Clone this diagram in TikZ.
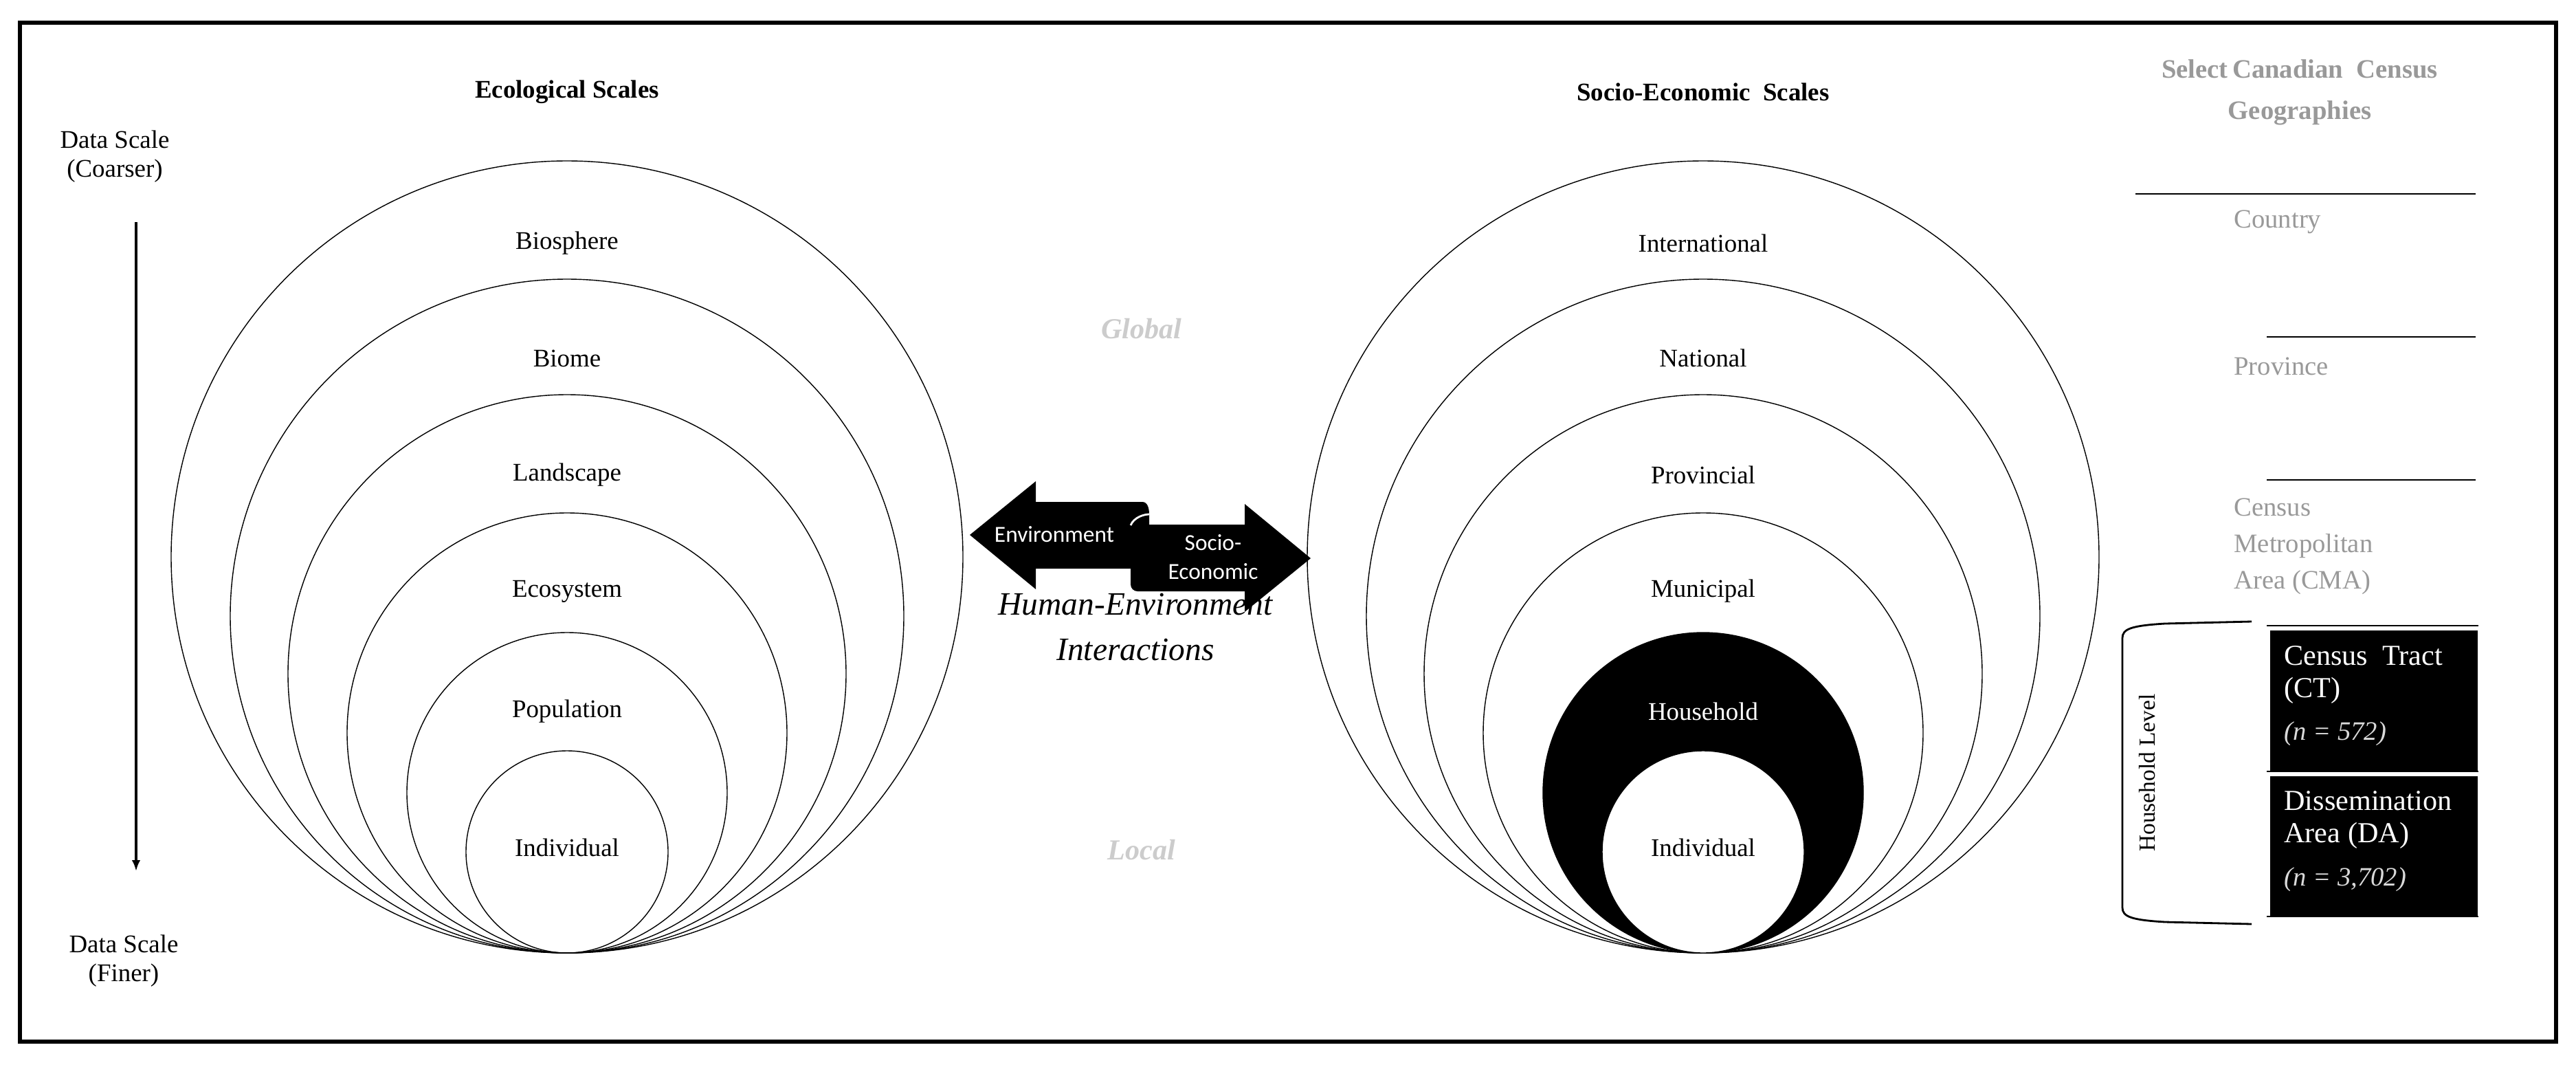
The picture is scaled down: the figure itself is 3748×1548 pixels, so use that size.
\documentclass[tikz,border=0pt]{standalone}
\usepackage{fontspec}
\usetikzlibrary{arrows.meta}
\setmainfont{Liberation Serif}
\newfontfamily\carl{Carlito}
\begin{document}
\begin{tikzpicture}[x=0.01cm,y=-0.01cm,
  circ/.style={draw,line width=0.4pt},
  lab/.style={font=\fontsize{10.5}{12}\selectfont},
  ttl/.style={font=\fontsize{10.5}{12}\selectfont\bfseries},
  gr/.style={text=gray!80},
  geo/.style={font=\fontsize{11}{15}\selectfont,text=gray!80,anchor=west,align=left},
  wt/.style={font=\fontsize{12}{15}\selectfont,text=white,anchor=west}]
\path[use as bounding box] (0,0) rectangle (3748,1548);
\draw[line width=1.5pt] (29,33) rectangle (3719,1515);
% left circles
\foreach \r in {576,490,406,320,233,147} \draw[circ] (825,1386-\r) circle (\r);
\node[lab] (bs) at (825,354) {Biosphere};
\node[lab] (bm) at (825,521) {Biome};
\node[lab] (ls) at (825,691) {Landscape};
\node[lab] (es) at (825,860) {Ecosystem};
\node[lab] (po) at (825,1035) {Population};
\node[lab] (in) at (825,1233) {Individual};
\node[ttl] (et) at (825,134) {Ecological Scales};
% right circles
\foreach \r in {576,490,406,320} \draw[circ] (2478,1386-\r) circle (\r);
\draw[circ,fill=black] (2478,1153) circle (233);
\draw[circ,fill=white] (2478,1239) circle (147);
\node[lab] at (2478,354) {International};
\node[lab] at (2478,521) {National};
\node[lab] at (2478,691) {Provincial};
\node[lab] at (2478,860) {Municipal};
\node[lab,text=white] at (2478,1035) {Household};
\node[lab] at (2478,1233) {Individual};
\node[ttl] (st) at (2478,134) {Socio-Economic\ \ Scales};
% data scale
\node[lab,align=center] (dc) at (167,228) {Data Scale\\(Coarser)};
\node[lab,align=center] (df) at (180,1398) {Data Scale\\(Finer)};
\coordinate (a1) at (198,323); \coordinate (a2) at (198,1267);
\draw[-{Latex[length=4.5pt,width=3.5pt]},line width=1.2pt] (a1) -- (a2);
% global/local
\node[font=\fontsize{12}{14}\selectfont\bfseries\itshape,text=gray!40] (gl) at (1661,478) {Global};
\node[font=\fontsize{12}{14}\selectfont\bfseries\itshape,text=gray!40] (lo) at (1661,1236) {Local};
\node[font=\fontsize{13.5}{19}\selectfont\itshape,align=center] (he) at (1652,912) {Human-Environment\\Interactions};
% arrows
\fill (1411,778) -- (1507,700) -- (1507,730) -- (1662,730) to[out=0,in=90] (1672,748) -- (1672,827) -- (1507,827) -- (1507,857) -- cycle;
\fill (1907,812) -- (1811,733) -- (1811,763) -- (1655,763) to[out=180,in=90] (1645,774) -- (1645,850) to[out=-90,in=180] (1655,860) -- (1811,860) -- (1811,890) -- cycle;
\draw[white,line width=0.8pt] (1645,764) .. controls (1650,752) and (1665,748) .. (1672,748);
\node[font=\carl\fontsize{9.5}{11}\selectfont,text=white] (en) at (1534,777) {Environment};
\node[font=\carl\fontsize{9.5}{12}\selectfont,text=white,align=center] (se) at (1765,810) {Socio-\\Economic};
% census column
\node[ttl,gr,align=center,font=\fontsize{11}{17}\selectfont\bfseries] (ct) at (3346,134) {Select\,Canadian\ \ Census\\Geographies};
\draw[line width=0.8pt] (3107,282) -- (3602,282);
\draw[line width=0.8pt] (3298,490) -- (3602,490);
\draw[line width=0.8pt] (3298,698) -- (3602,698);
\draw[line width=0.8pt] (3298,910) -- (3606,910);
\node[geo] (co) at (3238,323) {Country};
\node[geo] (pr) at (3238,533) {Province};
\node[geo] (cm) at (3238,795) {Census\\Metropolitan\\Area (CMA)};
\fill (3303,917) rectangle (3605,1121);
\draw[line width=0.8pt] (3298,1122) -- (3606,1122);
\fill (3303,1129) rectangle (3605,1333);
\draw[line width=0.8pt] (3298,1333) -- (3606,1333);
\node[wt] at (3311,954) {Census\ \ Tract};
\node[wt] at (3311,1004) {(CT)};
\node[wt,font=\fontsize{11}{13}\selectfont\itshape,text=gray!30] at (3311,1067) {(n = 572)};
\node[wt] at (3311,1165) {Dissemination};
\node[wt] at (3311,1215) {Area (DA)};
\node[wt,font=\fontsize{11}{13}\selectfont\itshape,text=gray!30] at (3311,1279) {(n = 3,702)};
\draw[line width=0.8pt] (3276,904) -- (3150,907) .. controls (3100,910) and (3088,915) .. (3088,928) -- (3088,1320) .. controls (3088,1333) and (3100,1338) .. (3150,1341) -- (3276,1344);
\node[font=\fontsize{9.5}{11}\selectfont,rotate=90] (hl) at (3124,1124) {Household Level};
\end{tikzpicture}
\end{document}
